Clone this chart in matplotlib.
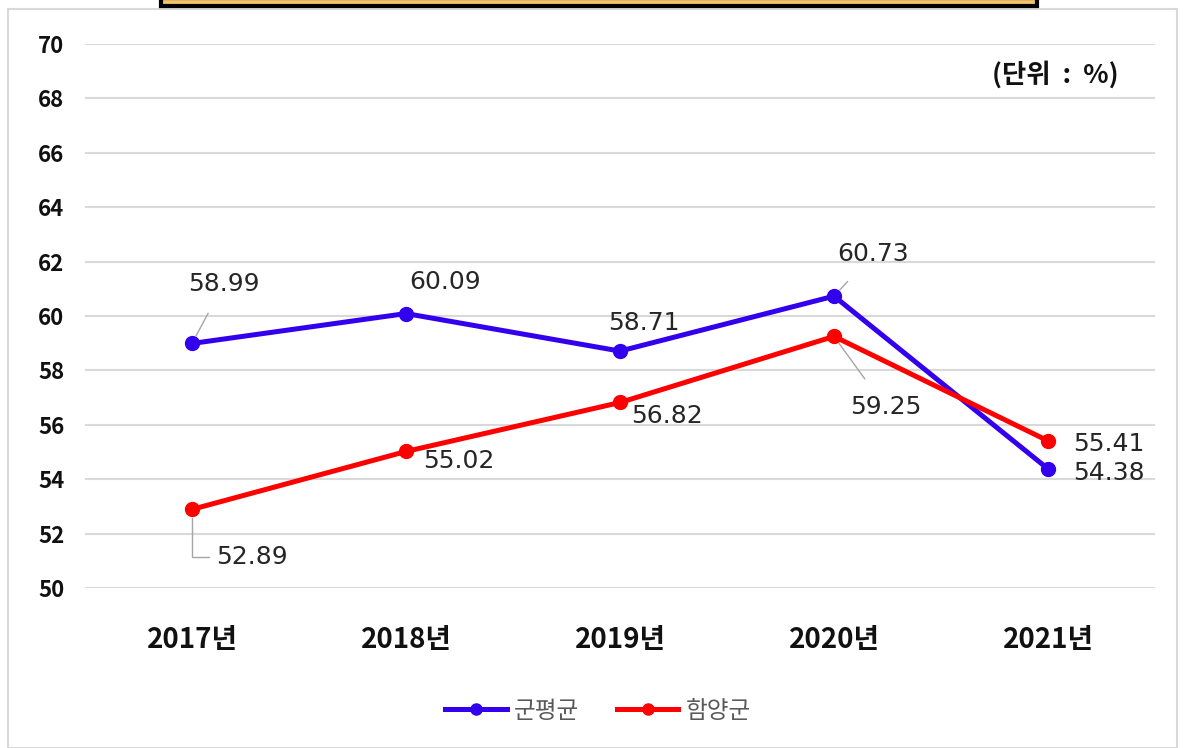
import matplotlib
matplotlib.use("Agg")
import matplotlib.pyplot as plt
from matplotlib.patches import Rectangle

plt.rcParams['font.family'] = ['Noto Sans CJK KR', 'DejaVu Sans']

years = ["2017년", "2018년", "2019년", "2020년", "2021년"]
gun_avg = [58.99, 60.09, 58.71, 60.73, 54.38]
hamyang = [52.89, 55.02, 56.82, 59.25, 55.41]
series_names = ["군평균", "함양군"]

BLUE = "#3300EE"
RED = "#FF0000"

fig = plt.figure(figsize=(11.86, 7.48), dpi=100)
W, H = 1186, 748

# outer chart frame and cropped title box at top
fig.patches.append(Rectangle((8 / W, 0), 1169 / W, 1 - 9 / H, transform=fig.transFigure,
                             fill=False, edgecolor="#d9d9d9", linewidth=1.5))
fig.patches.append(Rectangle((161 / W, 1 - 6 / H), 876 / W, 8 / H, transform=fig.transFigure,
                             facecolor="#F2C46D", edgecolor="black", linewidth=3))

ax = fig.add_axes([85 / W, 1 - 588 / H, 1070 / W, 544 / H])
x = list(range(len(years)))

ax.plot(x, gun_avg, "-o", color=BLUE, linewidth=3.6, markersize=10, label=series_names[0], zorder=3)
ax.plot(x, hamyang, "-o", color=RED, linewidth=3.6, markersize=10, label=series_names[1], zorder=3)

ax.set_xlim(-0.5, len(years) - 0.5)
ax.set_ylim(50, 70)
ax.set_yticks(range(50, 71, 2))
ax.set_xticks(x)
ax.set_xticklabels(years, fontsize=20, fontweight="bold", color="#111111")
ax.tick_params(axis="x", length=0, pad=27)
ax.tick_params(axis="y", length=0, pad=15, labelsize=16)
for lab in ax.get_yticklabels():
    lab.set_fontweight("bold")
    lab.set_color("#111111")
ax.grid(axis="y", color="#d9d9d9", linewidth=1.5)
ax.set_axisbelow(True)
for s in ax.spines.values():
    s.set_visible(False)

# data labels: (text offset in points, leader line style or None)
straight = "arc3"
elbow = "angle,angleA=0,angleB=90,rad=0"
blue_offsets = [((23, 43), straight), ((28, 23), None), ((17, 20), None), ((28, 30), straight), ((44, -3), None)]
red_offsets = [((43, -34), elbow), ((38, -7), None), ((34, -10), None), ((37, -51), straight), ((44, -2), None)]

lbl_kw = dict(fontsize=18, color="#262626", family=["DejaVu Sans"], ha="center", va="center")
for series, offs in ((gun_avg, blue_offsets), (hamyang, red_offsets)):
    for i, (v, (off, leader)) in enumerate(zip(series, offs)):
        arrow = None
        if leader == elbow:
            arrow = dict(arrowstyle="-", color="#a6a6a6", linewidth=1, shrinkA=3, shrinkB=6,
                         connectionstyle=elbow)
        elif leader:
            arrow = dict(arrowstyle="-", color="#a6a6a6", linewidth=1, shrinkA=12, shrinkB=6)
        ax.annotate(f"{v:.2f}", (i, v), xytext=off, textcoords="offset points",
                    arrowprops=arrow, zorder=4, **lbl_kw)

ax.text(0.907, 0.943, "(단위  :  %)", transform=ax.transAxes, ha="center", va="center",
        fontsize=19, fontweight="bold", color="#111111")

leg = fig.legend(loc="center", bbox_to_anchor=(598 / W, 1 - 711 / H), ncol=2, frameon=False,
                 fontsize=17, handlelength=2.6, columnspacing=1.6, handletextpad=0.3,
                 markerscale=0.8)
for t in leg.get_texts():
    t.set_color("#595959")

fig.savefig("out.png", dpi=100)
